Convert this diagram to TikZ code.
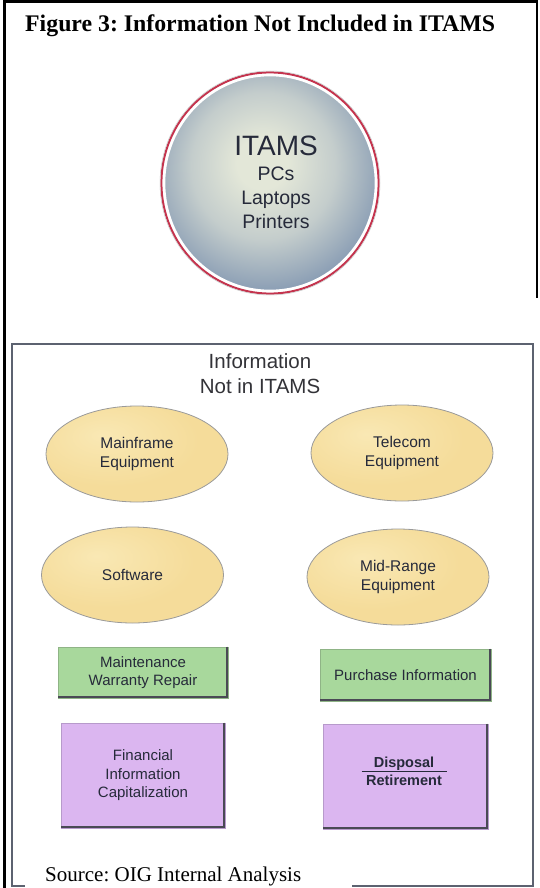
\documentclass[tikz,border=0pt]{standalone}
\usepackage{fontspec}
\setmainfont{Liberation Serif}
\newfontfamily\arial{Liberation Sans}
\usetikzlibrary{shapes.geometric}
\frenchspacing

% palette
\definecolor{frameGray}{HTML}{5C6270}
\definecolor{inkDark}{HTML}{262A3A}
\definecolor{headInk}{HTML}{333338}
\definecolor{ringRed}{HTML}{C4344E}
\definecolor{ovalHi}{HTML}{F9E8B4}
\definecolor{ovalFill}{HTML}{F5DC9A}
\definecolor{ovalEdge}{HTML}{C9A55C}
\definecolor{ovalLine}{HTML}{9A9A9A}
\definecolor{boxGreen}{HTML}{A8D89C}
\definecolor{boxGreenEdge}{HTML}{8FB486}
\definecolor{boxPurple}{HTML}{DBB6F0}
\definecolor{boxPurpleEdge}{HTML}{B79ACB}
\definecolor{plateShade}{HTML}{4A4A55}
\definecolor{itamsCore}{HTML}{E3E7D8}
\definecolor{itamsSoft}{HTML}{C4CDCC}
\definecolor{itamsMid}{HTML}{8C9FB5}
\definecolor{itamsOuter}{HTML}{6A809C}
\definecolor{itamsRim}{HTML}{4C5E78}

% glossy fills
\pgfdeclareradialshading{ovalglow}{\pgfpoint{-10bp}{10bp}}{%
  color(0bp)=(ovalHi); color(24bp)=(ovalFill); color(54bp)=(ovalFill);
  color(64bp)=(ovalEdge); color(80bp)=(ovalEdge)}
\pgfdeclareradialshading{itamsglow}{\pgfpoint{-2bp}{5bp}}{%
  color(0bp)=(itamsCore); color(6bp)=(itamsCore); color(17bp)=(itamsSoft);
  color(28bp)=(itamsMid); color(40bp)=(itamsOuter); color(49bp)=(itamsRim);
  color(80bp)=(itamsRim)}

\newcommand\fsz[2]{\fontsize{#1}{#2}\selectfont}
% dark bevel on the right and bottom edges of a plate
\newcommand\platerim[1]{%
  \draw[plateShade, line width=2.6pt]
    ([xshift=-1.3pt]#1.north east) -- ([xshift=-1.3pt,yshift=1.3pt]#1.south east)
    -- ([yshift=1.3pt]#1.south west);}

\begin{document}
\begin{tikzpicture}[x=1pt, y=-1pt,
  oval/.style={ellipse, shade, shading=ovalglow, draw=ovalLine, line width=0.8pt,
    minimum width=182pt, minimum height=96pt, inner sep=0pt, align=center,
    text=inkDark, font=\arial\fsz{15.5}{19}},
  plate/.style={rectangle, line width=0.6pt, inner sep=0pt, align=center,
    text=inkDark, font=\arial\fsz{15}{18.5}},
  greenplate/.style={plate, fill=boxGreen, draw=boxGreenEdge},
  purpleplate/.style={plate, fill=boxPurple, draw=boxPurpleEdge},
  itamstext/.style={anchor=base, text=inkDark, inner sep=0pt},
  headtext/.style={anchor=base, text=headInk, inner sep=0pt, font=\arial\fsz{20.5}{24}}]

\useasboundingbox (0,0) rectangle (540,888);
\fill[white] (0,0) rectangle (540,888);

% outer frame
\draw[black, line width=2.4pt] (4.5,888) -- (4.5,1.5) -- (537,1.5) -- (537,298);

% title
\node[anchor=base west, inner sep=0pt, font=\bfseries\fsz{23.8}{28}] (title) at (25,32)
  {Figure 3: Information Not Included in ITAMS};

% ITAMS disc
\node[ellipse, shade, shading=itamsglow, draw=white, line width=2.6pt,
  minimum width=212pt, minimum height=216pt] (itams) at (270,183) {};
\draw[ringRed, line width=2pt] (itams.center) ellipse [x radius=108.6, y radius=110.6];
\draw[gray!45, line width=0.5pt] (itams.center) ellipse [x radius=110, y radius=112];
\node[itamstext, font=\arial\fsz{28}{30}] (itamsname) at (276,155) {ITAMS};
\node[itamstext, font=\arial\fsz{19.5}{22}] (pcs) at (276,180) {PCs};
\node[itamstext, font=\arial\fsz{19.5}{22}] (laptops) at (276,204) {Laptops};
\node[itamstext, font=\arial\fsz{19.5}{22}] (printers) at (276,228) {Printers};

% panel of items outside ITAMS
\draw[frameGray, line width=2pt] (12,344) rectangle (533,886);
\node[headtext] (head1) at (260,368) {Information};
\node[headtext] (head2) at (260,393) {Not in ITAMS};

\node[oval] (mainframe) at (137,454) {Mainframe\\Equipment};
\node[oval] (telecom) at (402,453) {Telecom\\Equipment};
\node[oval] (software) at (132.5,575) {Software};
\node[oval] (midrange) at (398,577) {Mid-Range\\Equipment};

\node[greenplate, minimum width=170pt, minimum height=51pt] (maint) at (143,672.5)
  {Maintenance\\Warranty Repair};
\platerim{maint}
\node[greenplate, minimum width=171pt, minimum height=52pt] (purchase) at (405.5,675)
  {Purchase Information};
\platerim{purchase}

\node[purpleplate, minimum width=164pt, minimum height=105pt] (financial) at (143,775.5)
  {Financial\\Information\\Capitalization};
\platerim{financial}
\node[purpleplate, minimum width=165pt, minimum height=105pt] (disposal) at (405.5,776.5) {};
\platerim{disposal}
\node[anchor=base, inner sep=0pt, text=inkDark, font=\arial\bfseries\fsz{14.5}{17}]
  (disptop) at (404,767) {Disposal};
\node[anchor=base, inner sep=0pt, text=inkDark, font=\arial\bfseries\fsz{14.5}{17}]
  (dispbot) at (404,785) {Retirement};
\draw[inkDark, line width=1pt] ([xshift=-42.5pt,yshift=-4pt]disptop.base)
  -- ([xshift=42.5pt,yshift=-4pt]disptop.base);

% source line
\fill[white] (25,852) rectangle (352,888);
\node[anchor=base west, inner sep=0pt, font=\fsz{21}{24}] (source) at (45,881)
  {Source: OIG Internal Analysis};

\end{tikzpicture}
\end{document}
